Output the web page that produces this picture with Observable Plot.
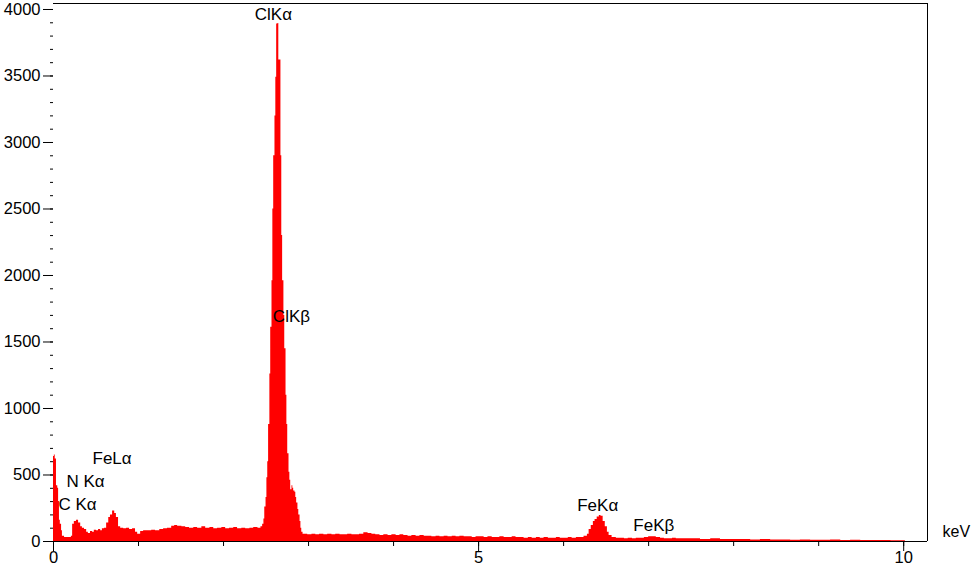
<!DOCTYPE html>
<html>
<head>
<meta charset="utf-8">
<script src="https://cdn.jsdelivr.net/npm/d3@7"></script>
<script src="https://cdn.jsdelivr.net/npm/@observablehq/plot@0.6"></script>
<style>
  html, body { margin: 0; padding: 0; background: #fff; }
  #chart svg { display: block; }
</style>
</head>
<body>
<div id="chart"></div>
<script>
// Spectrum: energy (keV) and counts
const energy = [
  0.00, 0.01, 0.02, 0.035, 0.05, 0.06, 0.07, 0.08, 0.095, 0.105, 0.13, 0.165, 0.20, 0.21,
  0.225, 0.245, 0.27, 0.295, 0.32, 0.34, 0.365, 0.39, 0.41, 0.435, 0.46, 0.48, 0.505, 0.53,
  0.555, 0.575, 0.60, 0.625, 0.65, 0.67, 0.695, 0.72, 0.74, 0.765, 0.79, 0.825, 0.86, 0.895,
  0.93, 0.965, 0.99, 1.025, 1.06, 1.11, 1.155, 1.20, 1.25, 1.295, 1.34, 1.39, 1.425, 1.46,
  1.51, 1.555, 1.60, 1.65, 1.695, 1.745, 1.79, 1.84, 1.885, 1.93, 1.98, 2.025, 2.07, 2.12,
  2.165, 2.215, 2.26, 2.31, 2.355, 2.405, 2.44, 2.46,
  2.475, 2.485, 2.50, 2.51, 2.52, 2.53, 2.545, 2.555, 2.57, 2.58, 2.59, 2.605, 2.615, 2.625,
  2.64, 2.65, 2.66, 2.675, 2.685, 2.695, 2.71, 2.72, 2.735, 2.745, 2.755, 2.77, 2.78, 2.79,
  2.805, 2.815, 2.825, 2.84, 2.85, 2.86, 2.875, 2.885, 2.90, 2.91, 2.92, 2.935,
  2.945, 2.99, 3.04, 3.085, 3.13, 3.18, 3.225, 3.275, 3.32, 3.37, 3.415, 3.46, 3.51, 3.555,
  3.60, 3.65, 3.70, 3.745, 3.79, 3.84, 3.885, 3.935, 3.98, 4.03, 4.075, 4.12, 4.17, 4.215,
  4.265, 4.31, 4.36, 4.405, 4.45, 4.50, 4.545, 4.595, 4.64, 4.69, 4.735, 4.78, 4.83, 4.875,
  4.925, 4.97, 5.02, 5.065, 5.11, 5.16, 5.205, 5.25, 5.30, 5.35, 5.395, 5.44, 5.49, 5.535,
  5.585, 5.63, 5.68, 5.725, 5.77, 5.82, 5.865, 5.915, 5.96, 6.005, 6.055, 6.10, 6.15, 6.195,
  6.24, 6.28, 6.30, 6.325, 6.35, 6.37, 6.395, 6.42, 6.44, 6.465, 6.49, 6.515, 6.535, 6.57,
  6.62, 6.665, 6.715, 6.76, 6.81, 6.855, 6.90, 6.95, 7.00, 7.045, 7.09, 7.14, 7.185, 7.23,
  7.28, 7.325, 7.375, 7.49, 7.61, 7.73, 7.845, 7.96, 8.08, 8.20, 8.315, 8.435, 8.55, 8.67,
  8.785, 8.905, 9.02, 9.14, 9.26, 9.375, 9.495, 9.61, 9.73, 9.85, 9.965, 10.02
];
const counts = [
  640, 650, 620, 420, 400, 300, 160, 130, 80, 40, 30, 30, 30, 40,
  130, 150, 160, 140, 110, 100, 90, 70, 60, 75, 70, 85, 80, 90,
  80, 95, 100, 140, 180, 200, 230, 210, 180, 110, 100, 95, 100, 90,
  95, 70, 55, 75, 80, 80, 85, 80, 90, 95, 100, 115, 120, 115,
  110, 105, 100, 105, 100, 110, 100, 105, 95, 100, 105, 95, 100, 105,
  95, 100, 95, 100, 105, 100, 110, 130,
  170, 260, 330, 480, 600, 880, 1260, 1610, 1960, 2500, 2900, 3200, 3490, 3890,
  3895, 3620, 3620, 2900, 2300, 1960, 1700, 1450, 1100, 880, 660, 520, 460, 390,
  420, 400, 380, 370, 330, 290, 240, 200, 150, 100, 70, 55,
  55, 50, 55, 50, 55, 50, 55, 50, 55, 50, 50, 55, 50, 50,
  55, 65, 60, 55, 50, 45, 50, 45, 50, 45, 50, 45, 40, 45,
  40, 45, 40, 40, 35, 40, 35, 40, 35, 40, 35, 40, 35, 35,
  30, 35, 35, 30, 35, 30, 30, 35, 30, 30, 35, 30, 30, 25,
  30, 25, 30, 25, 30, 25, 25, 30, 25, 25, 30, 25, 30, 30,
  40, 55, 90, 120, 150, 165, 185, 195, 190, 150, 110, 70, 45, 30,
  25, 25, 20, 25, 20, 25, 25, 30, 35, 35, 30, 25, 20, 20,
  25, 20, 20, 20, 15, 20, 15, 15, 15, 12, 15, 12, 12, 10,
  12, 10, 10, 12, 8, 10, 8, 8, 8, 6, 6, 0
];

// Peak annotations
const peakNames = ["C K\u03b1", "N K\u03b1", "FeL\u03b1", "ClK\u03b1", "ClK\u03b2", "FeK\u03b1", "FeK\u03b2"];
const peakKeV = [0.059, 0.153, 0.459, 2.367, 2.58, 6.16, 6.82];
const peakCounts = [278, 451, 624, 3963, 1692, 271, 120];

// Axis ticks
const yMajor = [0, 500, 1000, 1500, 2000, 2500, 3000, 3500, 4000];
const yMinor = d3.range(0, 4001, 100);
const xMajor = [0, 5, 10];
const xMinor = [0, 1, 2, 3, 4, 5, 6, 7, 8, 9, 10];

const xMax = 10.28;
const yMax = 4045;

const spectrum = energy.map((e, i) => ({e, c: counts[i]}));
const peaks = peakNames.map((name, i) => ({name, e: peakKeV[i], c: peakCounts[i]}));

const chart = Plot.plot({
  width: 975,
  height: 566,
  marginLeft: 53,
  marginRight: 48,
  marginTop: 3,
  marginBottom: 25,
  x: {domain: [0, xMax]},
  y: {domain: [0, yMax]},
  style: {
    fontFamily: "'Liberation Sans', Arial, sans-serif",
    fontSize: "16px",
    background: "#fff",
    color: "#000",
    overflow: "visible"
  },
  marks: [
    Plot.areaY(spectrum, {x: "e", y: "c", curve: "step-after", fill: "#ff0000"}),
    Plot.ruleY([0], {stroke: "#000"}),
    Plot.ruleY([yMax], {stroke: "#000"}),
    Plot.ruleX([xMax], {stroke: "#000"}),
    Plot.axisY({ticks: yMinor, tickSize: 3, tickFormat: () => "", label: null, stroke: "#000"}),
    Plot.axisY({ticks: yMajor, tickSize: 10, tickPadding: 3, tickFormat: d => String(d), label: null, stroke: "#000", fontSize: 16.5}),
    Plot.axisX({ticks: xMinor, tickSize: 5, tickFormat: () => "", label: null, stroke: "#000"}),
    Plot.axisX({ticks: xMajor, tickSize: 10, tickPadding: 0, tickFormat: d => String(d), label: null, stroke: "#000", fontSize: 16.5}),
    Plot.text(peaks, {x: "e", y: "c", text: "name", textAnchor: "start", fontSize: 17, fill: "#000"}),
    Plot.text(["keV"], {x: () => xMax, y: () => 0, text: d => d, textAnchor: "start", dx: 15, dy: -10, fontSize: 16, fill: "#000"})
  ]
});

document.getElementById("chart").appendChild(chart);
</script>
</body>
</html>
